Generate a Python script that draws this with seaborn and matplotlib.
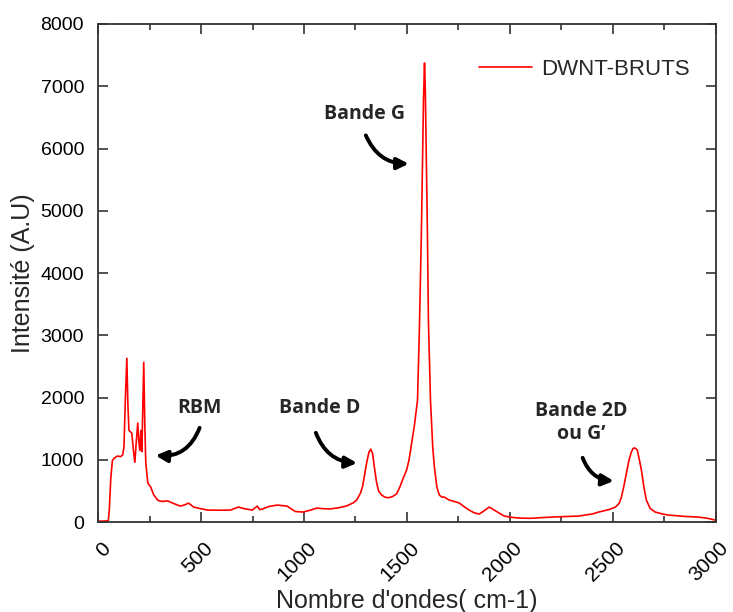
import matplotlib
matplotlib.use("Agg")
import matplotlib.pyplot as plt
import matplotlib.transforms as mtransforms
from matplotlib.ticker import MultipleLocator
import pandas as pd
import seaborn as sns

# Raman spectrum (wavenumber cm-1, intensity A.U)
wavenumber = [
    0, 25, 50, 55, 62, 70, 80, 95, 110, 120, 126, 133, 140, 145, 150, 157,
    164, 172, 179, 186, 193, 198, 203, 208, 213, 218, 222, 227, 232, 242,
    256, 270, 290, 310, 338, 365, 400, 420, 440, 464, 500, 531, 600, 643,
    681, 710, 749, 773, 785, 797, 830, 870, 918, 957, 995, 1030, 1063, 1090,
    1126, 1170, 1208, 1240, 1256, 1275, 1285, 1295, 1304, 1315, 1324, 1333,
    1342, 1352, 1362, 1375, 1392, 1410, 1430, 1449, 1465, 1480, 1498, 1510,
    1522, 1536, 1551, 1560, 1570, 1580, 1585, 1589, 1599, 1604, 1614, 1625,
    1633, 1645, 1657, 1670, 1681, 1705, 1730, 1754, 1780, 1802, 1825, 1850,
    1870, 1899, 1920, 1947, 1970, 1995, 2043, 2100, 2203, 2333, 2400, 2430,
    2480, 2512, 2530, 2541, 2553, 2565, 2578, 2589, 2597, 2604, 2611, 2618,
    2628, 2638, 2650, 2662, 2680, 2705, 2740, 2768, 2850, 2913, 2960, 2995,
]
intensity = [
    15, 15, 20, 200, 700, 990, 1030, 1060, 1050, 1080, 1200, 2000, 2630, 1900,
    1475, 1450, 1430, 1150, 960, 1300, 1590, 1300, 1150, 1470, 1130, 1900,
    2565, 1600, 945, 625, 560, 440, 350, 330, 340, 300, 256, 275, 304, 240,
    215, 192, 190, 192, 240, 215, 192, 256, 200, 208, 250, 272, 256, 170, 160,
    190, 224, 215, 210, 230, 260, 310, 353, 470, 580, 780, 950, 1120, 1170,
    1100, 870, 640, 500, 440, 400, 390, 410, 450, 560, 690, 833, 1000, 1250,
    1550, 1956, 3078, 4680, 6765, 7374, 6925, 4680, 3238, 1956, 1200, 882,
    560, 433, 400, 401, 353, 330, 305, 240, 192, 150, 128, 170, 240, 200, 144,
    100, 80, 64, 60, 80, 96, 130, 160, 200, 240, 300, 401, 580, 785, 1000,
    1122, 1180, 1190, 1180, 1154, 1000, 833, 560, 353, 220, 160, 130, 112, 90,
    80, 60, 32,
]

# band labels: text, text centre, arrow start, arrow end, curvature
band_labels = ["RBM", "Bande D", "Bande G", "Bande 2D\nou G\u2019"]
label_xy = [(493, 1827), (1077, 1827), (1295, 6556), (2348, 1603)]
arrow_from = [(498, 1555), (1053, 1475), (1295, 6252), (2348, 1074)]
arrow_to = [(266, 1074), (1271, 946), (1522, 5755), (2517, 657)]
arrow_rad = [-0.4, 0.35, 0.35, 0.35]

df = pd.DataFrame({"wavenumber": wavenumber, "intensity": intensity})

sns.set_theme(style="ticks")
plt.rcParams["font.family"] = ["Liberation Sans", "DejaVu Sans"]

fig = plt.figure(figsize=(7.33, 6.12), dpi=100)
ax = fig.add_axes([0.1337, 0.147, 0.8431, 0.8138])

sns.lineplot(data=df, x="wavenumber", y="intensity", color="red",
             linewidth=1.2, label="DWNT-BRUTS", ax=ax)

ax.set_xlim(0, 3000)
ax.set_ylim(0, 8000)
ax.xaxis.set_major_locator(MultipleLocator(500))
ax.xaxis.set_minor_locator(MultipleLocator(250))
ax.yaxis.set_major_locator(MultipleLocator(1000))

ax.tick_params(which="both", direction="in", top=True, right=True,
               colors="#333333", labelcolor="black", labelsize=14)
ax.tick_params(which="major", length=7, width=1.2)
ax.tick_params(which="minor", length=4, width=1.2)
ax.tick_params(axis="x", which="major", pad=12, labelsize=15)
ax.tick_params(axis="y", which="major", pad=10)

# rotated x labels: top-right corner sits a bit right of the tick
shift = mtransforms.ScaledTranslation(0.16, 0, fig.dpi_scale_trans)
for label in ax.get_xticklabels():
    label.set_rotation(45)
    label.set_ha("right")
    label.set_va("top")
    label.set_transform(label.get_transform() + shift)

for spine in ax.spines.values():
    spine.set_visible(True)
    spine.set_color("#333333")
    spine.set_linewidth(1.3)

ax.set_xlabel("Nombre d'ondes( cm-1)", fontsize=18, labelpad=3)
ax.set_ylabel("Intensité (A.U)", fontsize=18, labelpad=4)

for text, (tx, ty), start, end, rad in zip(band_labels, label_xy,
                                           arrow_from, arrow_to, arrow_rad):
    ax.text(tx, ty, text, ha="center", va="center", fontsize=14,
            fontweight="bold", family="Open Sans", linespacing=1.2)
    ax.annotate("", xy=end, xytext=start,
                arrowprops=dict(arrowstyle="-|>", color="black", lw=2.8,
                                mutation_scale=17,
                                connectionstyle=f"arc3,rad={rad}"))

ax.legend(loc="upper right", frameon=False, fontsize=16, handlelength=2.4,
          handletextpad=0.4, bbox_to_anchor=(0.99, 0.97))

fig.savefig("out.png", dpi=100)
